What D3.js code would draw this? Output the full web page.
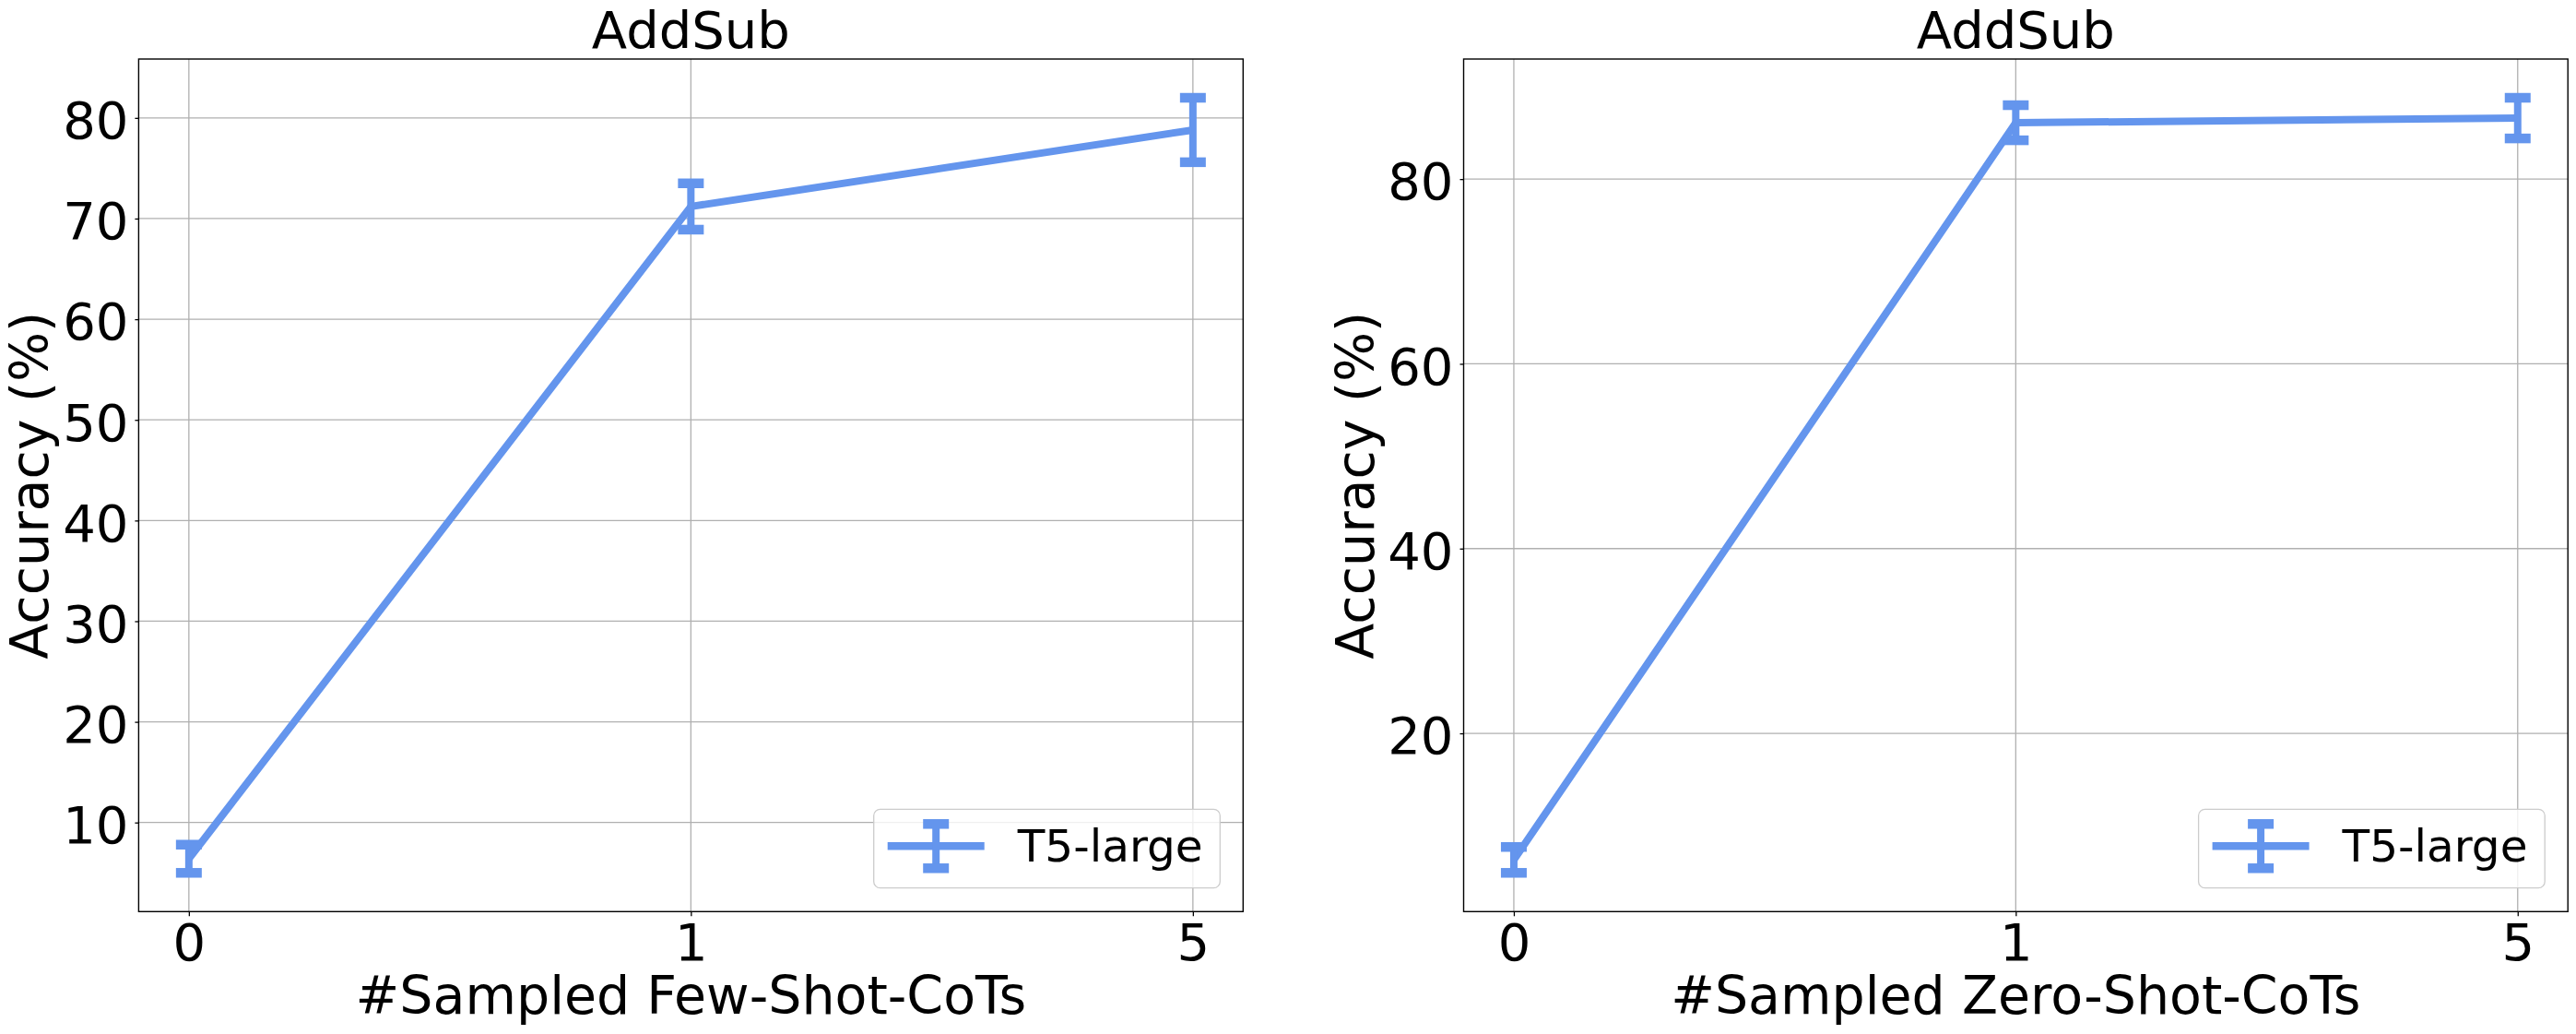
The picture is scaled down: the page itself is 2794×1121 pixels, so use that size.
<!DOCTYPE html>
<meta charset="utf-8">
<script src="https://d3js.org/d3.v7.min.js"></script>
<style>
  body { margin: 0; background: #fff; }
  text { font-family: "DejaVu Sans", sans-serif; fill: #000; }
</style>
<div id="my_dataviz"></div>
<script>

// x categories (number of sampled CoTs)
var xLabels = ["0", "1", "5"];

// left panel: few-shot CoTs, accuracy mean and error
var fewShotMean = [6.4, 71.2, 78.8];
var fewShotErr = [1.4, 2.3, 3.2];

// right panel: zero-shot CoTs
var zeroShotMean = [6.3, 86.1, 86.6];
var zeroShotErr = [1.4, 1.9, 2.2];

var leftTicks = [10, 20, 30, 40, 50, 60, 70, 80];
var rightTicks = [20, 40, 60, 80];

var seriesName = "T5-large";
var titles = ["AddSub", "AddSub"];
var xTitles = ["#Sampled Few-Shot-CoTs", "#Sampled Zero-Shot-CoTs"];
var yTitle = "Accuracy (%)";

var W = 2794, H = 1121;
var color = "#6495ED";

var svg = d3.select("#my_dataviz")
  .append("svg")
    .attr("width", W)
    .attr("height", H);

// one panel = one set of axes
function drawPanel(px0, px1, mean, err, ticks, title, xTitle, yLabelX) {
  var top = 64, bottom = 988.3;
  var n = xLabels.length;

  var x = d3.scaleLinear()
    .domain([-0.1, (n - 1) + 0.1])
    .range([px0, px1]);

  // matplotlib style autoscale: data limits plus 5% margin
  var lo = d3.min(mean, function(d, i) { return d - err[i]; });
  var hi = d3.max(mean, function(d, i) { return d + err[i]; });
  var pad = 0.05 * (hi - lo);
  var y = d3.scaleLinear()
    .domain([lo - pad, hi + pad])
    .range([bottom, top]);

  var g = svg.append("g");

  // grid
  g.append("g").selectAll("line")
    .data(ticks)
    .enter().append("line")
      .attr("x1", px0).attr("x2", px1)
      .attr("y1", function(d) { return y(d); })
      .attr("y2", function(d) { return y(d); })
      .attr("stroke", "#b0b0b0")
      .attr("stroke-width", 1.3);
  g.append("g").selectAll("line")
    .data(xLabels)
    .enter().append("line")
      .attr("x1", function(d, i) { return x(i); })
      .attr("x2", function(d, i) { return x(i); })
      .attr("y1", top).attr("y2", bottom)
      .attr("stroke", "#b0b0b0")
      .attr("stroke-width", 1.3);

  // axes
  var xAxis = g.append("g")
    .attr("transform", "translate(0," + bottom + ")")
    .call(d3.axisBottom(x)
      .tickValues(d3.range(n))
      .tickFormat(function(d) { return xLabels[d]; })
      .tickSize(5)
      .tickPadding(7.6));
  xAxis.select(".domain").remove();
  xAxis.selectAll("text")
    .style("font-size", "56px")
    .style("font-family", "DejaVu Sans");
  xAxis.selectAll("line").attr("stroke-width", 1.3);

  var yAxis = g.append("g")
    .attr("transform", "translate(" + px0 + ",0)")
    .call(d3.axisLeft(y)
      .tickValues(ticks)
      .tickSize(4)
      .tickPadding(7));
  yAxis.select(".domain").remove();
  yAxis.selectAll("text")
    .attr("dy", "0.39em")
    .style("font-size", "56px")
    .style("font-family", "DejaVu Sans");
  yAxis.selectAll("line").attr("stroke-width", 1.3);

  // frame
  g.append("rect")
    .attr("x", px0).attr("y", top)
    .attr("width", px1 - px0).attr("height", bottom - top)
    .attr("fill", "none")
    .attr("stroke", "#000")
    .attr("stroke-width", 1.4);

  // the line
  var pts = mean.map(function(d, i) { return [i, d]; });
  g.append("path")
    .datum(pts)
    .attr("d", d3.line()
      .x(function(d) { return x(d[0]); })
      .y(function(d) { return y(d[1]); }))
    .attr("fill", "none")
    .attr("stroke", color)
    .attr("stroke-width", 8)
    .attr("stroke-linejoin", "round");

  // error bars
  var eb = g.append("g").selectAll("g")
    .data(pts)
    .enter().append("g");
  eb.append("line")
    .attr("x1", function(d) { return x(d[0]); })
    .attr("x2", function(d) { return x(d[0]); })
    .attr("y1", function(d) { return y(d[1] - err[d[0]]); })
    .attr("y2", function(d) { return y(d[1] + err[d[0]]); })
    .attr("stroke", color)
    .attr("stroke-width", 8);
  [-1, 1].forEach(function(s) {
    eb.append("line")
      .attr("x1", function(d) { return x(d[0]) - 14; })
      .attr("x2", function(d) { return x(d[0]) + 14; })
      .attr("y1", function(d) { return y(d[1] + s * err[d[0]]); })
      .attr("y2", function(d) { return y(d[1] + s * err[d[0]]); })
      .attr("stroke", color)
      .attr("stroke-width", 10.5);
  });

  // title and axis labels
  g.append("text")
    .attr("x", (px0 + px1) / 2).attr("y", 52)
    .attr("text-anchor", "middle")
    .style("font-size", "56px")
    .text(title);
  g.append("text")
    .attr("x", (px0 + px1) / 2).attr("y", 1099)
    .attr("text-anchor", "middle")
    .style("font-size", "57px")
    .text(xTitle);
  g.append("text")
    .attr("transform", "translate(" + yLabelX + "," + ((top + bottom) / 2) + ") rotate(-90)")
    .attr("text-anchor", "middle")
    .style("font-size", "57px")
    .text(yTitle);

  // legend, lower right
  var lw = 375.6, lh = 85.4;
  var lx = px1 - 25 - lw, ly = bottom - 25.6 - lh;
  var leg = g.append("g").attr("transform", "translate(" + lx + "," + ly + ")");
  leg.append("rect")
    .attr("width", lw).attr("height", lh)
    .attr("rx", 7).attr("ry", 7)
    .attr("fill", "#fff").attr("fill-opacity", 0.8)
    .attr("stroke", "#cccccc").attr("stroke-width", 1.3);
  leg.append("line")
    .attr("x1", 15).attr("x2", 120)
    .attr("y1", 40).attr("y2", 40)
    .attr("stroke", color).attr("stroke-width", 8.5);
  leg.append("line")
    .attr("x1", 67.5).attr("x2", 67.5)
    .attr("y1", 16).attr("y2", 64)
    .attr("stroke", color).attr("stroke-width", 8);
  [16, 64].forEach(function(cy) {
    leg.append("line")
      .attr("x1", 53.5).attr("x2", 81.5)
      .attr("y1", cy).attr("y2", cy)
      .attr("stroke", color).attr("stroke-width", 10.5);
  });
  leg.append("text")
    .attr("x", 156).attr("y", 57.2)
    .style("font-size", "48.5px")
    .text(seriesName);
}

drawPanel(150.4, 1348.3, fewShotMean, fewShotErr, leftTicks, titles[0], xTitles[0], 52);
drawPanel(1587.5, 2785.2, zeroShotMean, zeroShotErr, rightTicks, titles[1], xTitles[1], 1490);

</script>
